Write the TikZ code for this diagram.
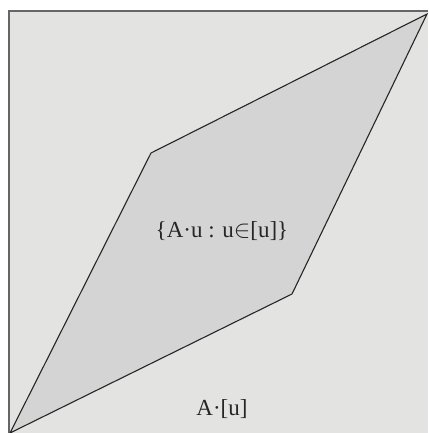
\documentclass[tikz,border=0pt]{standalone}
\usepackage{fontspec}
\setmainfont{Liberation Serif}
\begin{document}
\begin{tikzpicture}[x=1pt,y=-1pt,
  para/.style={fill=parafill,draw=black!85,line width=1.1pt,line join=miter},
  lbl/.style={font=\fontsize{23}{27}\selectfont,text=black!85,inner sep=0pt}]
\definecolor{bgfill}{HTML}{E3E4E2}
\definecolor{parafill}{HTML}{D4D4D4}
\useasboundingbox (0,0) rectangle (428,433);
\fill[bgfill] (9,11) rectangle (428,433);
\draw[black!60,line width=1.4pt] (9,433) -- (9,11) -- (428,11);
\coordinate (bl) at (10,433);
\coordinate (ul) at (151,153);
\coordinate (tr) at (427,14);
\coordinate (lr) at (292,294);
\draw[para] (bl) -- (ul) -- (tr) -- (lr) -- cycle;
\node[lbl] (inner) at (222,231) {\{A·u : u$\in$[u]\}};
\node[lbl] (outerlbl) at (222,409) {A·[u]};
\end{tikzpicture}
\end{document}
